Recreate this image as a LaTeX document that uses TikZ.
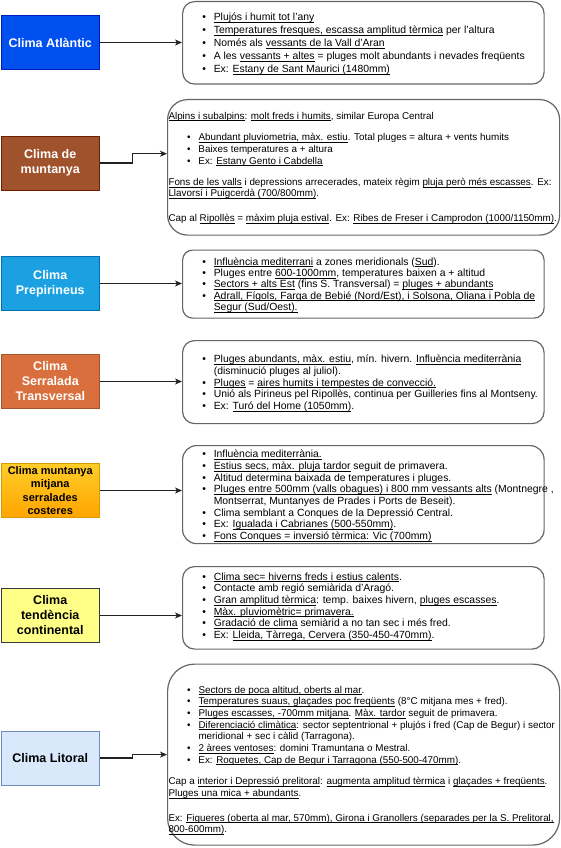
\documentclass[tikz,border=0pt]{standalone}
\usepackage{fontspec}
\setmainfont{Liberation Sans}
\usetikzlibrary{arrows.meta}
\newsavebox{\uubox}
\newcommand{\uu}[1]{\sbox{\uubox}{#1}\rlap{\rule[-1.75pt]{\wd\uubox}{0.55pt}}\usebox{\uubox}}
\newcommand{\bul}{\makebox[11.4pt][l]{\textbullet}}
\definecolor{atlfill}{HTML}{0050EF}\definecolor{atldraw}{HTML}{001DBC}
\definecolor{munfill}{HTML}{A0522D}\definecolor{mundraw}{HTML}{6D1F00}
\definecolor{prefill}{HTML}{1BA1E2}\definecolor{predraw}{HTML}{006EAF}
\definecolor{serfill}{HTML}{D86F3D}\definecolor{serdraw}{HTML}{A5532A}
\definecolor{mitjtop}{HTML}{FFCD28}\definecolor{mitjbot}{HTML}{FFA500}\definecolor{mitjdraw}{HTML}{D79B00}
\definecolor{contfill}{HTML}{FFFF88}\definecolor{contdraw}{HTML}{36393D}
\definecolor{litfill}{HTML}{DAE8FC}\definecolor{litdraw}{HTML}{6C8EBF}
\definecolor{boxgray}{HTML}{666666}
\definecolor{connc}{HTML}{222222}
\begin{document}
\begin{tikzpicture}[x=1pt,y=-1pt,
  tx/.style={inner sep=0pt, anchor=base west, font=\fontsize{10.4}{12}\selectfont, text=black},
  txs/.style={inner sep=0pt, anchor=base west, font=\fontsize{9.85}{12}\selectfont, text=black},
  rbox/.style={draw=boxgray, line width=1.2pt, fill=white, inner sep=0pt, anchor=north west},
  lbox/.style={line width=1pt, minimum width=98.5pt, minimum height=54pt, inner sep=0pt, align=center, font=\fontsize{12.5}{15}\selectfont\bfseries},
  conn/.style={draw=connc, line width=1.1pt, -{Stealth[length=7pt,width=6pt,inset=2pt]}}
]
\useasboundingbox (0,0) rectangle (560,848);
\fill[white] (0,0) rectangle (560,848);

% ---------- left boxes ----------
\node[lbox, fill=atlfill, draw=atldraw, text=white] (L1) at (50.25,42.5) {Clima Atlàntic};
\node[lbox, fill=munfill, draw=mundraw, text=white] (L2) at (50.25,163) {Clima de\\muntanya};
\node[lbox, fill=prefill, draw=predraw, text=white] (L3) at (50.25,283.5) {Clima\\Prepirineus};
\node[lbox, fill=serfill, draw=serdraw, text=white] (L4) at (50.25,381.5) {Clima\\Serralada\\Transversal};
\node[lbox, top color=mitjtop, bottom color=mitjbot, draw=mitjdraw, text=black, font=\fontsize{11}{13.5}\selectfont\bfseries] (L5) at (50.25,490.5) {Clima muntanya\\mitjana\\serralades\\costeres};
\node[lbox, fill=contfill, draw=contdraw, text=black] (L6) at (50.25,615.5) {Clima\\tendència\\continental};
\node[lbox, fill=litfill, draw=litdraw, text=black] (L7) at (50.25,758) {Clima Litoral};

% ---------- right boxes ----------
\node[rbox, minimum width=361.5pt, minimum height=82.5pt, rounded corners=12pt] (R1) at (182,1) {};
\node[rbox, minimum width=392pt, minimum height=135.5pt, rounded corners=20pt] (R2) at (167,99) {};
\node[rbox, minimum width=361.5pt, minimum height=68pt, rounded corners=10pt] (R3) at (182,249.5) {};
\node[rbox, minimum width=361.5pt, minimum height=83pt, rounded corners=12pt] (R4) at (182,340) {};
\node[rbox, minimum width=361.5pt, minimum height=98pt, rounded corners=14pt] (R5) at (182,445) {};
\node[rbox, minimum width=361.5pt, minimum height=82.5pt, rounded corners=12pt] (R6) at (182,566) {};
\node[rbox, minimum width=392pt, minimum height=181pt, rounded corners=27pt] (R7) at (167,663.5) {};

% ---------- connectors ----------
\coordinate (R2in) at (167,153.7);
\coordinate (J2) at (132.7,163);
\coordinate (J7) at (132.7,758);
\draw[conn] (L1.east) -- (L1.east -| R1.west);
\draw[conn] (L2.east) -- (J2) |- (R2in);
\draw[conn] (L3.east) -- (L3.east -| R3.west);
\draw[conn] (L4.east) -- (L4.east -| R4.west);
\draw[conn] (L5.east) -- (L5.east -| R5.west);
\draw[conn] (L6.east) -- (L6.east -| R6.west);
\draw[conn] (L7.east) -- (J7) |- (R7.west);

% ---------- box 1 ----------
\node[tx] (a1) at (202.2,20.9) {\bul\uu{Plujós i humit tot l'any}};
\node[tx] (a2) at (202.2,33.9) {\bul\uu{Temperatures fresques, escassa amplitud tèrmica} per l'altura};
\node[tx] (a3) at (202.2,46.9) {\bul Només als \uu{vessants de la Vall d'Aran}};
\node[tx] (a4) at (202.2,59.9) {\bul A les \uu{vessants + altes} = pluges molt abundants i nevades freqüents};
\node[tx] (a5) at (202.2,72.9) {\bul Ex: \uu{Estany de Sant Maurici (1480mm)}};

% ---------- box 2 ----------
\node[txs] (b1) at (168.3,119.2) {\uu{Alpins i subalpins}: \uu{molt freds i humits}, similar Europa Central};
\node[txs] (b2) at (186.9,140.9) {\bul\uu{Abundant pluviometria, màx. estiu}. Total pluges = altura + vents humits};
\node[txs] (b3) at (186.9,152.5) {\bul Baixes temperatures a + altura};
\node[txs] (b4) at (186.9,164.2) {\bul Ex: \uu{Estany Gento i Cabdella}};
\node[txs] (b5) at (168.3,185.3) {\uu{Fons de les valls} i depressions arrecerades, mateix règim \uu{pluja però més escasses}. Ex:};
\node[txs] (b6) at (168.3,196.9) {\uu{Llavorsí i Puigcerdà (700/800mm)}.};
\node[txs] (b7) at (168.3,221.5) {Cap al \uu{Ripollès} = \uu{màxim pluja estival}. Ex: \uu{Ribes de Freser i Camprodon (1000/1150mm)}.};

% ---------- box 3 ----------
\node[tx] (c1) at (202.2,265.1) {\bul\uu{Influència mediterrani} a zones meridionals (\uu{Sud}).};
\node[tx] (c2) at (202.2,276.4) {\bul Pluges entre \uu{600-1000mm}, temperatures baixen a + altitud};
\node[tx] (c3) at (202.2,287.7) {\bul\uu{Sectors + alts Est} (fins S. Transversal) = \uu{pluges + abundants}};
\node[tx] (c4) at (202.2,299.0) {\bul\uu{Adrall, Fígols, Farga de Bebié (Nord/Est), i Solsona, Oliana i Pobla de}};
\node[tx] (c5) at (213.6,310.3) {\uu{Segur (Sud/Oest).}};

% ---------- box 4 ----------
\node[tx] (d1) at (202.2,362.4) {\bul\uu{Pluges abundants, màx. estiu}, mín. hivern. \uu{Influència mediterrània}};
\node[tx] (d2) at (213.6,374.2) {(disminució pluges al juliol).};
\node[tx] (d3) at (202.2,386.0) {\bul\uu{Pluges} = \uu{aires humits i tempestes de convecció.}};
\node[tx] (d4) at (202.2,397.8) {\bul Unió als Pirineus pel Ripollès, continua per Guilleries fins al Montseny.};
\node[tx] (d5) at (202.2,409.6) {\bul Ex: \uu{Turó del Home (1050mm)}.};

% ---------- box 5 ----------
\node[tx] (e1) at (202.2,457.8) {\bul\uu{Influència mediterrània.}};
\node[tx] (e2) at (202.2,469.5) {\bul\uu{Estius secs, màx. pluja tardor} seguit de primavera.};
\node[tx] (e3) at (202.2,481.2) {\bul Altitud determina baixada de temperatures i pluges.};
\node[tx] (e4) at (202.2,492.9) {\bul\uu{Pluges entre 500mm (valls obagues) i 800 mm vessants alts} (Montnegre ,};
\node[tx] (e5) at (213.6,504.6) {Montserrat, Muntanyes de Prades i Ports de Beseit).};
\node[tx] (e6) at (202.2,516.2) {\bul Clima semblant a Conques de la Depressió Central.};
\node[tx] (e7) at (202.2,527.9) {\bul Ex: \uu{Igualada i Cabrianes (500-550mm)}.};
\node[tx] (e8) at (202.2,539.6) {\bul\uu{Fons Conques = inversió tèrmica: Vic (700mm)}};

% ---------- box 6 ----------
\node[tx] (f1) at (202.2,580.2) {\bul\uu{Clima sec= hiverns freds i estius calents}.};
\node[tx] (f2) at (202.2,591.9) {\bul Contacte amb regió semiàrida d'Aragó.};
\node[tx] (f3) at (202.2,603.6) {\bul\uu{Gran amplitud tèrmica}: temp. baixes hivern, \uu{pluges escasses}.};
\node[tx] (f4) at (202.2,615.2) {\bul\uu{Màx. pluviomètric= primavera.}};
\node[tx] (f5) at (202.2,626.9) {\bul\uu{Gradació de clima} semiàrid a no tan sec i més fred.};
\node[tx] (f6) at (202.2,638.6) {\bul Ex: \uu{Lleida, Tàrrega, Cervera (350-450-470mm)}.};

% ---------- box 7 ----------
\node[txs] (g1) at (186.9,693.2) {\bul\uu{Sectors de poca altitud, oberts al mar}.};
\node[txs] (g2) at (186.9,704.9) {\bul\uu{Temperatures suaus, glaçades poc freqüents} (8°C mitjana mes + fred).};
\node[txs] (g3) at (186.9,716.5) {\bul\uu{Pluges escasses, -700mm mitjana}. \uu{Màx. tardor} seguit de primavera.};
\node[txs] (g4) at (186.9,728.2) {\bul\uu{Diferenciació climàtica}: sector septentrional + plujós i fred (Cap de Begur) i sector};
\node[txs] (g5) at (198.3,739.9) {meridional + sec i càlid (Tarragona).};
\node[txs] (g6) at (186.9,751.6) {\bul\uu{2 àrees ventoses}: domini Tramuntana o Mestral.};
\node[txs] (g7) at (186.9,763.2) {\bul Ex: \uu{Roquetes, Cap de Begur i Tarragona (550-500-470mm)}.};
\node[txs] (g8) at (168.3,784.6) {Cap a \uu{interior i Depressió prelitoral}: \uu{augmenta amplitud tèrmica} i \uu{glaçades + freqüents}.};
\node[txs] (g9) at (168.3,796.3) {\uu{Pluges una mica + abundants}.};
\node[txs] (g10) at (168.3,821.2) {Ex: \uu{Figueres (oberta al mar, 570mm), Girona i Granollers (separades per la S. Prelitoral,}};
\node[txs] (g11) at (168.3,832.9) {\uu{800-600mm)}.};
\end{tikzpicture}
\end{document}
